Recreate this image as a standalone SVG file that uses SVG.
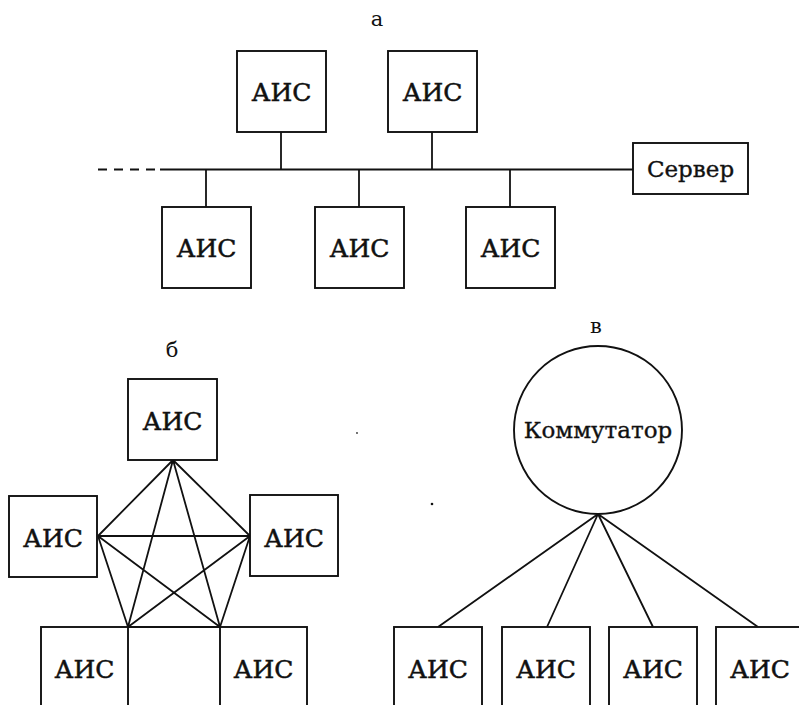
<svg xmlns="http://www.w3.org/2000/svg" width="799" height="705" viewBox="0 0 799 705">
<style>
.b{fill:#fff;stroke:#111;stroke-width:1.9}
.c line,.c path{stroke:#111;stroke-width:1.8;fill:none}
.t{font-family:"DejaVu Serif","Liberation Serif",serif;font-size:25px;fill:#111;stroke:#111;stroke-width:0.5;text-anchor:middle}
.s{font-size:23px;stroke-width:0.35}
.l{font-family:"DejaVu Serif","Liberation Serif",serif;font-size:21px;fill:#111;text-anchor:middle}
</style>
<rect width="799" height="705" fill="#fff"/>
<text class="l" x="377" y="26">а</text>
<text class="l" x="172" y="357">б</text>
<text class="l" x="596" y="333">в</text>
<g class="c" id="connectors">
  <line x1="98" y1="169.5" x2="158" y2="169.5" stroke-dasharray="9,7"/>
  <line x1="160" y1="169.5" x2="633" y2="169.5"/>
  <line x1="281" y1="132" x2="281" y2="169.5"/>
  <line x1="432" y1="132" x2="432" y2="169.5"/>
  <line x1="206" y1="169.5" x2="206" y2="207"/>
  <line x1="359" y1="169.5" x2="359" y2="207"/>
  <line x1="510" y1="169.5" x2="510" y2="207"/>
  <path d="M173,460 L98,536 M173,460 L250,536 M173,460 L128,627 M173,460 L220,627 M98,536 L250,536 M98,536 L128,627 M98,536 L220,627 M250,536 L128,627 M250,536 L220,627 M128,627 L220,627"/>
  <path d="M598,514 L438,627 M598,514 L547,627 M598,514 L653,627 M598,514 L758,627"/>
</g>
<g id="a-top1"><rect class="b" x="237" y="51" width="89" height="81"/><text class="t" x="281.5" y="100.5">АИС</text></g>
<g id="a-top2"><rect class="b" x="388" y="51" width="89" height="81"/><text class="t" x="432.5" y="100.5">АИС</text></g>
<g id="a-bot1"><rect class="b" x="162" y="207" width="89" height="81"/><text class="t" x="206.5" y="256.5">АИС</text></g>
<g id="a-bot2"><rect class="b" x="315" y="207" width="89" height="81"/><text class="t" x="359.5" y="256.5">АИС</text></g>
<g id="a-bot3"><rect class="b" x="466" y="207" width="89" height="81"/><text class="t" x="510.5" y="256.5">АИС</text></g>
<g id="a-server"><rect class="b" x="633" y="143" width="115" height="51"/><text class="t s" x="690.5" y="176.5">Сервер</text></g>
<g id="b-top"><rect class="b" x="128" y="379" width="89" height="81"/><text class="t" x="172.5" y="430">АИС</text></g>
<g id="b-left"><rect class="b" x="9" y="496" width="88" height="81"/><text class="t" x="53" y="547">АИС</text></g>
<g id="b-right"><rect class="b" x="250" y="495" width="88" height="81"/><text class="t" x="294" y="547">АИС</text></g>
<g id="b-botleft"><rect class="b" x="41" y="627" width="87" height="90"/><text class="t" x="84.5" y="678">АИС</text></g>
<g id="b-botright"><rect class="b" x="220" y="627" width="87" height="90"/><text class="t" x="263.5" y="678">АИС</text></g>
<g id="v-switch"><circle class="b" cx="598" cy="430" r="84"/><text class="t s" x="598" y="438">Коммутатор</text></g>
<g id="v-1"><rect class="b" x="394" y="627" width="88" height="90"/><text class="t" x="438" y="678">АИС</text></g>
<g id="v-2"><rect class="b" x="502" y="627" width="88" height="90"/><text class="t" x="546" y="678">АИС</text></g>
<g id="v-3"><rect class="b" x="609" y="627" width="88" height="90"/><text class="t" x="653" y="678">АИС</text></g>
<g id="v-4"><rect class="b" x="716" y="627" width="88" height="90"/><text class="t" x="760" y="678">АИС</text></g>
<circle cx="357" cy="433" r="0.9" fill="#333"/>
<circle cx="432" cy="504" r="1.3" fill="#111"/>
</svg>
